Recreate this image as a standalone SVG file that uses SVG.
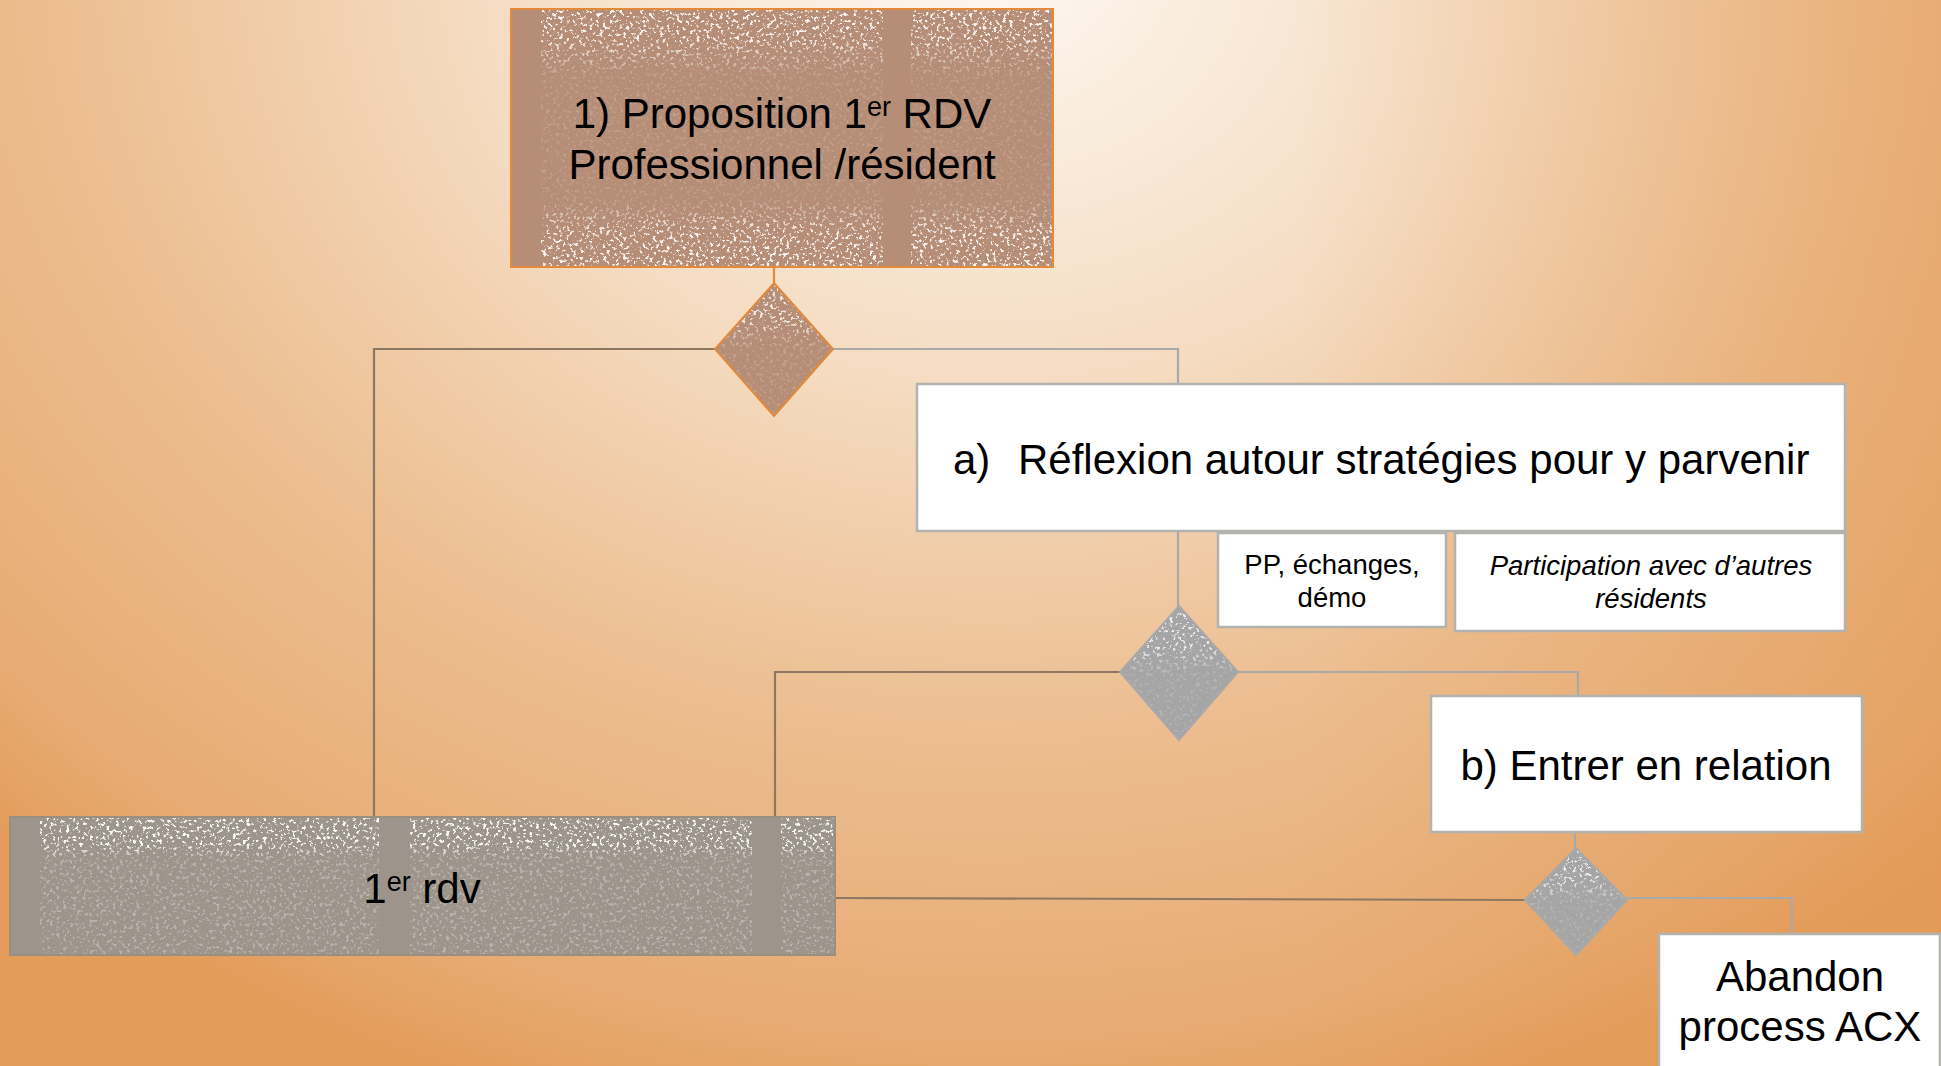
<svg xmlns="http://www.w3.org/2000/svg" width="1941" height="1066" viewBox="0 0 1941 1066">
<defs>
  <radialGradient id="bg" gradientUnits="userSpaceOnUse" cx="0" cy="0" r="1" gradientTransform="translate(990,-40) scale(1450,1200)">
    <stop offset="0" stop-color="#fdf8f2"/>
    <stop offset="0.35" stop-color="#f5dcc2"/>
    <stop offset="0.65" stop-color="#ecbd8f"/>
    <stop offset="0.9" stop-color="#e7ab73"/>
    <stop offset="1" stop-color="#e39c5a"/>
  </radialGradient>
  <linearGradient id="rightShade" gradientUnits="userSpaceOnUse" x1="1300" y1="0" x2="1941" y2="0">
    <stop offset="0" stop-color="#e39a55" stop-opacity="0"/>
    <stop offset="1" stop-color="#e39a55" stop-opacity="0.45"/>
  </linearGradient>
  <linearGradient id="bandV" x1="0" y1="0" x2="0" y2="1">
    <stop offset="0" stop-color="#fff" stop-opacity="1"/>
    <stop offset="0.12" stop-color="#fff" stop-opacity="0.9"/>
    <stop offset="0.26" stop-color="#fff" stop-opacity="0.15"/>
    <stop offset="0.74" stop-color="#fff" stop-opacity="0.15"/>
    <stop offset="0.86" stop-color="#fff" stop-opacity="0.9"/>
    <stop offset="1" stop-color="#fff" stop-opacity="1"/>
  </linearGradient>
  <linearGradient id="bandTop" x1="0" y1="0" x2="0" y2="1">
    <stop offset="0" stop-color="#fff" stop-opacity="1"/>
    <stop offset="0.2" stop-color="#fff" stop-opacity="1"/>
    <stop offset="0.3" stop-color="#fff" stop-opacity="0.3"/>
    <stop offset="1" stop-color="#fff" stop-opacity="0.3"/>
  </linearGradient>
  <linearGradient id="diaTop" x1="0" y1="0" x2="0" y2="1">
    <stop offset="0" stop-color="#fff" stop-opacity="1"/>
    <stop offset="0.3" stop-color="#fff" stop-opacity="0.9"/>
    <stop offset="0.5" stop-color="#fff" stop-opacity="0.2"/>
    <stop offset="1" stop-color="#fff" stop-opacity="0.15"/>
  </linearGradient>
  <mask id="mTop" maskUnits="userSpaceOnUse" x="0" y="0" width="1941" height="1066">
    <rect x="511" y="9" width="542" height="258" fill="url(#bandV)"/>
    <rect x="511" y="9" width="30" height="258" fill="#000"/>
    <rect x="883" y="9" width="28" height="258" fill="#000"/>
  </mask>
  <mask id="mRdv" maskUnits="userSpaceOnUse" x="0" y="0" width="1941" height="1066">
    <rect x="10" y="817" width="825" height="138" fill="url(#bandTop)"/>
    <rect x="10" y="817" width="30" height="138" fill="#000"/>
    <rect x="379" y="817" width="31" height="138" fill="#000"/>
    <rect x="752" y="817" width="29" height="138" fill="#000"/>
  </mask>
  <mask id="mDia" maskUnits="userSpaceOnUse" x="0" y="0" width="1941" height="1066">
    <rect x="700" y="283" width="150" height="133" fill="url(#diaTop)"/>
    <rect x="1110" y="606" width="140" height="134" fill="url(#diaTop)"/>
    <rect x="1515" y="848" width="120" height="107" fill="url(#diaTop)"/>
  </mask>
  <filter id="spk" filterUnits="objectBoundingBox" x="0" y="0" width="1" height="1">
    <feTurbulence type="fractalNoise" baseFrequency="0.3" numOctaves="4" seed="7" result="n"/>
    <feColorMatrix in="n" type="matrix" values="0 0 0 0 1  0 0 0 0 1  0 0 0 0 1  9 0 0 0 -5.1" result="w"/>
    <feComposite in="w" in2="SourceAlpha" operator="in"/>
  </filter>
</defs>
<style>
  .t { font-family: "Liberation Sans", Arial, sans-serif; fill: #000; text-anchor: middle; }
  .big { font-size: 42px; }
  .small { font-size: 27.5px; }
  .wbox { fill: #ffffff; stroke: #b2b2ae; stroke-width: 2.5; }
  .conn { fill: none; stroke-width: 2.2; }
  .brown { stroke: #8c7862; }
  .gray { stroke: #a9a9a9; }
  .orange { stroke: #e2893a; }
  .spw { fill: #ffffff; }
</style>

<rect x="0" y="0" width="1941" height="1066" fill="url(#bg)"/>
<rect x="0" y="0" width="1941" height="1066" fill="url(#rightShade)"/>

<g id="connectors">
  <path class="conn orange" d="M774,267 V283"/>
  <path class="conn brown" d="M715,349 H374 V817"/>
  <path class="conn gray" d="M833,349 H1178 V384"/>
  <path class="conn gray" d="M1178,531 V606"/>
  <path class="conn brown" d="M1120,672 H775 V817"/>
  <path class="conn gray" d="M1238,672 H1578 V696"/>
  <path class="conn gray" d="M1575,832 V848"/>
  <path class="conn brown" d="M1525,900 L835,898"/>
  <path class="conn gray" d="M1627,898 H1792 V934"/>
</g>

<g id="node-proposition">
  <rect x="511" y="9" width="542" height="258" fill="#b68e77"/>
  <g mask="url(#mTop)">
    <rect x="511" y="9" width="542" height="258" class="spw" filter="url(#spk)" opacity="0.95"/>
  </g>
  <rect x="511" y="9" width="542" height="258" fill="none" stroke="#e2893a" stroke-width="2"/>
  <text class="t big" x="782" y="128">1) Proposition 1<tspan font-size="27" dy="-12">er</tspan><tspan dy="12"> RDV</tspan></text>
  <text class="t big" x="782" y="179">Professionnel /résident</text>
</g>

<g id="node-decision1">
  <polygon points="774,283 833,349 774,416 715,349" fill="#b68e77"/>
  <g mask="url(#mDia)">
    <polygon points="774,283 833,349 774,416 715,349" class="spw" filter="url(#spk)" opacity="0.85"/>
  </g>
  <polygon points="774,283 833,349 774,416 715,349" fill="none" stroke="#e2893a" stroke-width="2"/>
</g>

<g id="node-reflexion">
  <rect x="917" y="384" width="928" height="147" class="wbox"/>
  <text class="t big" x="953" y="474" style="text-anchor:start">a)</text>
  <text class="t big" x="1018" y="474" style="text-anchor:start">Réflexion autour stratégies pour y parvenir</text>
</g>

<g id="node-pp">
  <rect x="1218" y="533" width="228" height="94" class="wbox"/>
  <text class="t small" x="1332" y="574">PP, échanges,</text>
  <text class="t small" x="1332" y="607">démo</text>
</g>

<g id="node-participation">
  <rect x="1455" y="533" width="390" height="98" class="wbox"/>
  <text class="t small" x="1651" y="575" font-style="italic">Participation avec d’autres</text>
  <text class="t small" x="1651" y="608" font-style="italic">résidents</text>
</g>

<g id="node-decision2">
  <polygon points="1179,606 1238,672 1179,740 1120,672" fill="#a5a5a5"/>
  <g mask="url(#mDia)">
    <polygon points="1179,606 1238,672 1179,740 1120,672" class="spw" filter="url(#spk)" opacity="0.85"/>
  </g>
  <polygon points="1179,606 1238,672 1179,740 1120,672" fill="none" stroke="#a9a9a9" stroke-width="2"/>
</g>

<g id="node-entrer">
  <rect x="1431" y="696" width="431" height="136" class="wbox"/>
  <text class="t big" x="1646" y="780">b) Entrer en relation</text>
</g>

<g id="node-decision3">
  <polygon points="1576,848 1627,900 1576,955 1525,900" fill="#a5a5a5"/>
  <g mask="url(#mDia)">
    <polygon points="1576,848 1627,900 1576,955 1525,900" class="spw" filter="url(#spk)" opacity="0.85"/>
  </g>
  <polygon points="1576,848 1627,900 1576,955 1525,900" fill="none" stroke="#a9a9a9" stroke-width="2"/>
</g>

<g id="node-abandon">
  <rect x="1659" y="934" width="281" height="140" class="wbox"/>
  <text class="t big" x="1800" y="991">Abandon</text>
  <text class="t big" x="1800" y="1041">process ACX</text>
</g>

<g id="node-rdv">
  <rect x="10" y="817" width="825" height="138" fill="#9d958c"/>
  <g mask="url(#mRdv)">
    <rect x="10" y="817" width="825" height="138" class="spw" filter="url(#spk)" opacity="0.95"/>
  </g>
  <rect x="10" y="817" width="825" height="138" fill="none" stroke="#9a8e80" stroke-width="2"/>
  <text class="t big" x="422" y="903">1<tspan font-size="27" dy="-12">er</tspan><tspan dy="12"> rdv</tspan></text>
</g>
</svg>
